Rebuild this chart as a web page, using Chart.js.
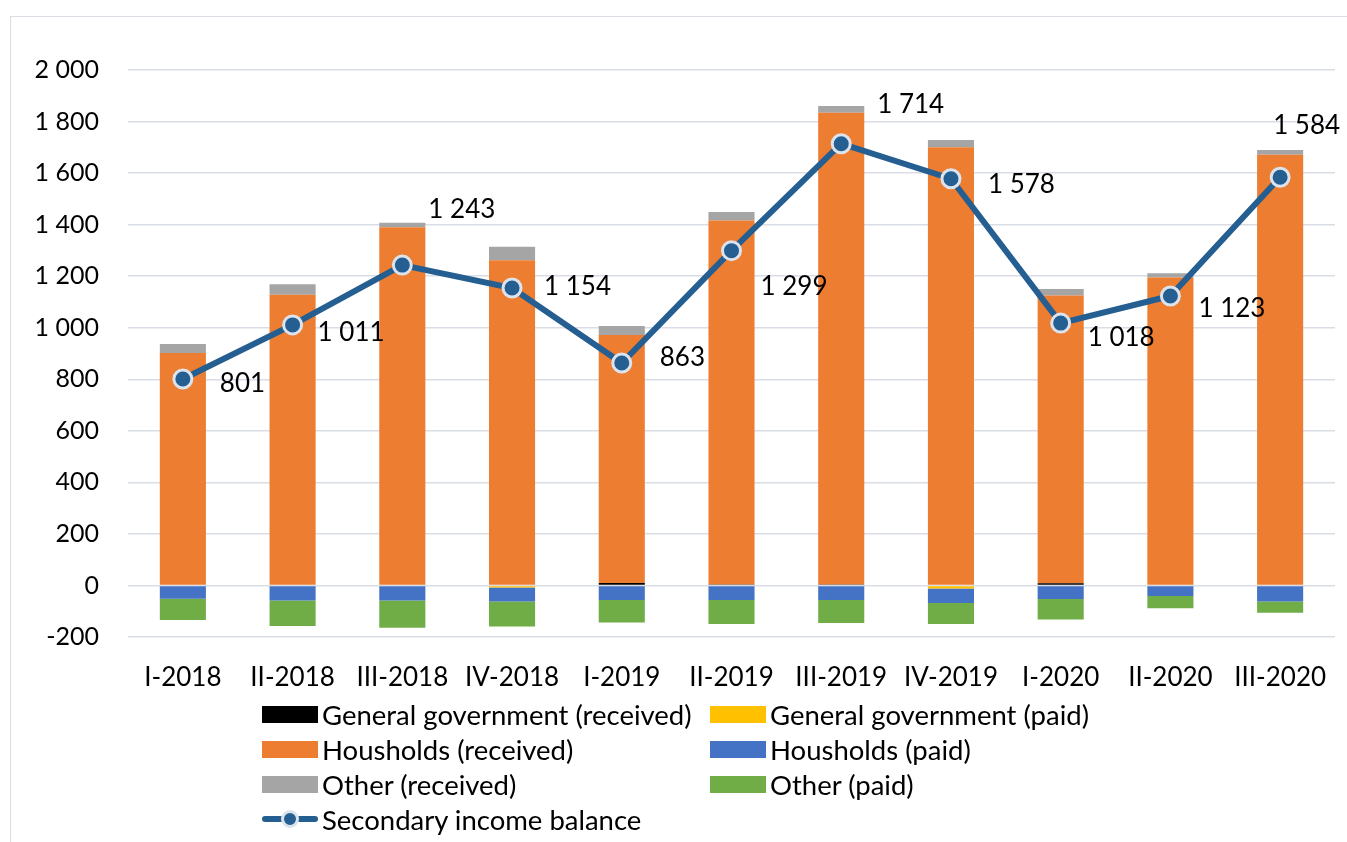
<!DOCTYPE html>
<html>
<head>
<meta charset="utf-8">
<script src="https://cdn.jsdelivr.net/npm/chart.js@4.4.1/dist/chart.umd.min.js"></script>
<style>
  html, body { margin:0; padding:0; background:#fff; }
  body { width:1347px; height:842px; position:relative; overflow:hidden; font-family: Lato, "Open Sans", sans-serif; }
  #frame { position:absolute; left:10px; top:16px; width:1400px; height:900px; border:1.5px solid #D9DDE4; box-sizing:border-box; }
  #wrap { position:absolute; left:0; top:0; width:1347px; height:842px; }
  #legend { position:absolute; left:262px; top:697px; width:900px; font-size:27.5px; color:#000; }
  .item { position:absolute; height:34px; display:flex; align-items:center; white-space:nowrap; }
  .box { width:56px; height:17px; margin-right:4px; }
  .lineSym { width:56px; height:34px; position:relative; margin-right:4px; }
  .lineSym .ln { position:absolute; left:0; right:0; top:14px; height:6px; background:#255E91; border-radius:3px; }
  .lineSym .dot { position:absolute; left:19px; top:8px; width:12px; height:12px; border-radius:50%; background:#255E91; border:3px solid #DCE3EC; }
</style>
</head>
<body>
<div id="frame"></div>
<div id="wrap"><canvas id="c" width="1347" height="842"></canvas></div>
<div id="legend"></div>
<script>
const categories = ["I-2018","II-2018","III-2018","IV-2018","I-2019","II-2019","III-2019","IV-2019","I-2020","II-2020","III-2020"];
const govReceived = [0, 0, 0, 0, 10, 4, 4, 0, 9, 0, 0];
const govPaid = [0, 0, 0, -8, 0, 0, 0, -12, 0, 0, 0];
const housReceived = [902, 1128, 1390, 1262, 962, 1412, 1830, 1700, 1116, 1195, 1671];
const housPaid = [-52, -58, -58, -54, -56, -56, -56, -56, -53, -41, -62];
const otherReceived = [35, 41, 17, 52, 35, 33, 26, 28, 25, 16, 19];
const otherPaid = [-82, -99, -106, -97, -88, -94, -90, -82, -79, -47, -44];
const balance = [801, 1011, 1243, 1154, 863, 1299, 1714, 1578, 1018, 1123, 1584];
const yTicks = [-200, 0, 200, 400, 600, 800, 1000, 1200, 1400, 1600, 1800, 2000];
// label offsets relative to point (dx, dy) in px
const labelOffsets = [[37,5],[25,8],[26,-55],[32,-1],[38,-5],[29,36],[36,-39],[37,6],[27,15],[28,13],[-7,-52]];

function fmt(v){
  const s = Math.abs(v).toString().replace(/\B(?=(\d{3})+(?!\d))/g, " ");
  return (v < 0 ? "-" : "") + s;
}

const FONT = "Lato, 'Open Sans', sans-serif";

const barDefs = [
  ["General government (received)", govReceived, "#000000"],
  ["General government (paid)", govPaid, "#FFC000"],
  ["Housholds (received)", housReceived, "#ED7D31"],
  ["Housholds (paid)", housPaid, "#4472C4"],
  ["Other (received)", otherReceived, "#A5A5A5"],
  ["Other (paid)", otherPaid, "#70AD47"]
];

const datasets = barDefs.map(([label, data, color]) => ({
  type: "bar", label, data, backgroundColor: color, stack: "s", order: 2,
  barPercentage: 0.84, categoryPercentage: 0.5
}));
datasets.push({
  type: "line", label: "Secondary income balance", data: balance, stack: "line", order: 0,
  borderColor: "#255E91", borderWidth: 6, backgroundColor: "#255E91",
  pointRadius: 9, pointBorderWidth: 3, pointBorderColor: "#DCE3EC", pointBackgroundColor: "#255E91",
  tension: 0, fill: false
});

const labelPlugin = {
  id: "pointLabels",
  afterDatasetsDraw(chart) {
    const ctx = chart.ctx;
    const meta = chart.getDatasetMeta(chart.data.datasets.length - 1);
    ctx.save();
    ctx.font = "26px " + FONT;
    ctx.fillStyle = "#000";
    ctx.textAlign = "left";
    ctx.textBaseline = "middle";
    meta.data.forEach((pt, i) => {
      const [dx, dy] = labelOffsets[i];
      ctx.fillText(fmt(balance[i]), pt.x + dx, pt.y + dy);
    });
    ctx.restore();
  }
};

const chart = new Chart(document.getElementById("c"), {
  data: { labels: categories, datasets },
  options: {
    responsive: false, animation: false,
    layout: { padding: { top: 70, right: 0, bottom: 145, left: 0 } },
    plugins: { legend: { display: false }, tooltip: { enabled: false } },
    scales: {
      x: {
        stacked: true,
        grid: { display: false },
        border: { display: false },
        ticks: { color: "#000", font: { size: 26, family: FONT }, padding: 17, maxRotation: 0, autoSkip: false },
        afterFit(s) { s.height = 60; }
      },
      y: {
        stacked: true, min: -200, max: 2000,
        afterBuildTicks(s) { s.ticks = yTicks.map(v => ({ value: v })); },
        grid: { color: "#D9DEE6", lineWidth: 1.5, drawTicks: false },
        border: { display: false },
        ticks: { color: "#000", font: { size: 25, family: FONT }, padding: 29, callback: v => fmt(v) },
        afterFit(s) { s.width = 128; }
      }
    }
  },
  plugins: [labelPlugin]
});

// HTML legend built from datasets
const legend = document.getElementById("legend");
const positions = [[0,0],[448,0],[0,35],[448,35],[0,70],[448,70],[0,105]];
chart.data.datasets.forEach((ds, i) => {
  const it = document.createElement("div");
  it.className = "item";
  it.style.left = positions[i][0] + "px";
  it.style.top = positions[i][1] + "px";
  let sym;
  if (ds.type === "line") {
    sym = document.createElement("div"); sym.className = "lineSym";
    sym.innerHTML = '<div class="ln"></div><div class="dot"></div>';
  } else {
    sym = document.createElement("div"); sym.className = "box"; sym.style.background = ds.backgroundColor;
  }
  const t = document.createElement("span"); t.textContent = ds.label;
  it.appendChild(sym); it.appendChild(t);
  legend.appendChild(it);
});
</script>
</body>
</html>
